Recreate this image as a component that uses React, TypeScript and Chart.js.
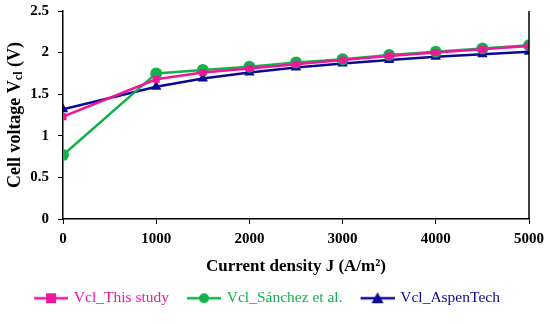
import React, { useEffect, useRef } from "react";
import { Chart, registerables } from "chart.js";

Chart.register(...registerables);

const currentDensity = [0, 1000, 1500, 2000, 2500, 3000, 3500, 4000, 4500, 5000];
const vclThisStudy = [1.23, 1.68, 1.76, 1.81, 1.86, 1.91, 1.96, 2.0, 2.04, 2.08];
const vclSanchez = [0.77, 1.75, 1.79, 1.83, 1.88, 1.92, 1.97, 2.01, 2.05, 2.09];
const vclAspen = [1.32, 1.59, 1.69, 1.76, 1.82, 1.87, 1.91, 1.95, 1.98, 2.01];
const seriesLabels = ["Vcl_This study", "Vcl_Sánchez et al.", "Vcl_AspenTech"];
const seriesColors = ["#F0169A", "#14B04C", "#0A0A96"];
const seriesMarkers = ["rect", "circle", "triangle"];
const yTicks = [0, 0.5, 1, 1.5, 2, 2.5];
const xTicks = [0, 1000, 2000, 3000, 4000, 5000];

const FONT = "'Liberation Serif', 'Times New Roman', serif";

// legend icon: transparent lead-in, then a line with the series marker
function makeLegendIcon(color: string, marker: string): HTMLCanvasElement {
  const lead = 6;
  const c = document.createElement("canvas");
  c.width = lead + 34;
  c.height = 14;
  const ctx = c.getContext("2d")!;
  ctx.strokeStyle = color;
  ctx.fillStyle = color;
  ctx.lineWidth = 2.5;
  ctx.beginPath();
  ctx.moveTo(lead, 7);
  ctx.lineTo(lead + 34, 7);
  ctx.stroke();
  ctx.beginPath();
  const cx = lead + 17;
  if (marker === "rect") {
    ctx.rect(cx - 5, 2, 10, 10);
  } else if (marker === "circle") {
    ctx.arc(cx, 7, 5, 0, Math.PI * 2);
  } else {
    ctx.moveTo(cx, 1);
    ctx.lineTo(cx + 6, 12);
    ctx.lineTo(cx - 6, 12);
    ctx.closePath();
  }
  ctx.fill();
  return c;
}

const frameAndTitlePlugin = {
  id: "frameAndTitle",
  afterDraw(chart: any) {
    const { ctx, chartArea } = chart;
    ctx.save();
    ctx.strokeStyle = "#000";
    ctx.lineWidth = 1.5;
    ctx.beginPath();
    ctx.moveTo(chartArea.right, chartArea.top);
    ctx.lineTo(chartArea.right, chartArea.bottom);
    ctx.stroke();

    // y-axis title with subscript
    const cy = (chartArea.top + chartArea.bottom) / 2;
    ctx.translate(15, cy);
    ctx.rotate(-Math.PI / 2);
    ctx.fillStyle = "#000";
    ctx.textBaseline = "middle";
    ctx.textAlign = "left";
    const main = "bold 18px " + FONT;
    const sub = "bold 12px " + FONT;
    const p1 = "Cell voltage V";
    const p2 = "cl";
    const p3 = " (V)";
    ctx.font = main;
    const w1 = ctx.measureText(p1).width;
    const w3 = ctx.measureText(p3).width;
    ctx.font = sub;
    const w2 = ctx.measureText(p2).width;
    const total = w1 + w2 + w3;
    let x = -total / 2;
    ctx.font = main;
    ctx.fillText(p1, x, 0);
    x += w1;
    ctx.font = sub;
    ctx.fillText(p2, x, 4);
    x += w2;
    ctx.font = main;
    ctx.fillText(p3, x, 0);
    ctx.restore();
  },
};

export default function App() {
  const ref = useRef<HTMLCanvasElement>(null);

  useEffect(() => {
    const series = [vclThisStudy, vclSanchez, vclAspen];
    const icons = seriesColors.map((c, i) => makeLegendIcon(c, seriesMarkers[i]));
    const chart = new Chart(ref.current!, {
      type: "line",
      data: {
        datasets: series.map((vals, i) => ({
          label: seriesLabels[i],
          data: currentDensity.map((x, j) => ({ x, y: vals[j] })),
          borderColor: seriesColors[i],
          backgroundColor: seriesColors[i],
          borderWidth: 2.5,
          pointStyle: seriesMarkers[i] as any,
          pointRadius: i === 0 ? 5 : 6,
          pointBorderWidth: 0,
          tension: 0,
        })),
      },
      options: {
        animation: false,
        responsive: false,
        layout: { padding: { left: 0, right: 20, top: 11, bottom: 8 } },
        scales: {
          x: {
            type: "linear",
            min: 0,
            max: 5000,
            afterBuildTicks: (s: any) => {
              s.ticks = xTicks.map((v) => ({ value: v }));
            },
            ticks: {
              color: "#000",
              font: { family: FONT, size: 15, weight: "bold" },
              padding: 6,
              maxRotation: 0,
              callback: (v: any) => String(v),
            },
            grid: {
              display: true,
              drawOnChartArea: false,
              drawTicks: true,
              tickLength: 5,
              color: "#000",
              lineWidth: 1,
            },
            border: { display: true, color: "#000", width: 1.5 },
            title: {
              display: true,
              text: "Current density J (A/m²)",
              color: "#000",
              font: { family: FONT, size: 17, weight: "bold" },
              padding: { top: 2, bottom: 0 },
            },
          },
          y: {
            type: "linear",
            min: 0,
            max: 2.5,
            afterBuildTicks: (s: any) => {
              s.ticks = yTicks.map((v) => ({ value: v }));
            },
            afterFit: (s: any) => {
              s.width = 63;
              s.paddingTop = 0;
              s.paddingBottom = 0;
            },
            ticks: {
              color: "#000",
              font: { family: FONT, size: 15, weight: "bold" },
              padding: 9,
              callback: (v: any) => String(v),
            },
            grid: {
              display: true,
              drawOnChartArea: false,
              drawTicks: true,
              tickLength: 5,
              color: "#000",
              lineWidth: 1,
            },
            border: { display: true, color: "#000", width: 1.5 },
          },
        },
        plugins: {
          tooltip: { enabled: false },
          legend: {
            position: "bottom",
            labels: {
              usePointStyle: true,
              pointStyleWidth: 36,
              boxHeight: 14,
              padding: 14,
              font: { family: FONT, size: 15.5 },
              generateLabels: () =>
                seriesLabels.map((t, i) => ({
                  text: t,
                  fontColor: seriesColors[i],
                  fillStyle: seriesColors[i],
                  strokeStyle: "rgba(0,0,0,0)",
                  lineWidth: 0,
                  pointStyle: icons[i],
                  hidden: false,
                  datasetIndex: i,
                })),
            },
          },
        },
      },
      plugins: [frameAndTitlePlugin],
    });
    return () => chart.destroy();
  }, []);

  return (
    <div style={{ position: "fixed", left: 0, top: 0, width: 550, height: 324, background: "#fff" }}>
      <canvas ref={ref} width={550} height={324} style={{ display: "block" }} />
    </div>
  );
}
